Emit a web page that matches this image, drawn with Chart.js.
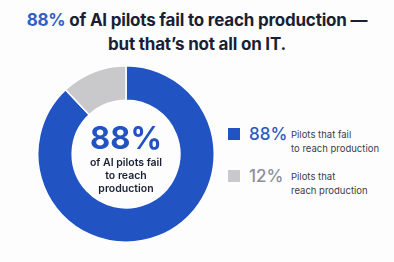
<!DOCTYPE html>
<html>
<head>
<meta charset="utf-8">
<script src="https://cdn.jsdelivr.net/npm/chart.js@4"></script>
<style>
  html, body { margin: 0; padding: 0; background: #fdfdfd; }
  body { width: 394px; height: 262px; position: relative; overflow: hidden; font-family: Inter, "Open Sans", sans-serif; color: #1b1f33; }
  .title { position: absolute; left: 0; top: 8px; width: 394px; text-align: center; font-weight: 700; font-size: 17px; line-height: 24px; letter-spacing: -0.2px; }
  .title .hl { color: #2f5fc6; }
  .chart-box { position: absolute; left: 37px; top: 65px; width: 178px; height: 178px; }
  .legend { position: absolute; left: 228px; top: 122px; }
  .legend-item { display: flex; align-items: flex-start; margin-bottom: 8px; }
  .legend-swatch { width: 12px; height: 12px; margin-top: 6px; margin-right: 9px; }
  .legend-pct { font-size: 17px; font-weight: 500; width: 42px; line-height: 24px; }
  .legend-label { font-size: 9.5px; line-height: 14px; color: #3a3d4a; margin-top: 6px; }
</style>
</head>
<body>
<div class="title"><span class="hl">88%</span> of AI pilots fail to reach production —<br>but that’s not all on IT.</div>
<div class="chart-box"><canvas id="donut"></canvas></div>
<div class="legend" id="legend"></div>
<script>
const labels = ['Pilots that fail\nto reach production', 'Pilots that\nreach production'];
const values = [88, 12];
const colors = ['#2153c2', '#c9c9cb'];
const pctColors = ['#2a59c4', '#8e8f96'];
const centerLines = ['of AI pilots fail', 'to reach', 'production'];

const legendEl = document.getElementById('legend');
legendEl.innerHTML = labels.map((l, i) => `
  <div class="legend-item">
    <div class="legend-swatch" style="background:${colors[i]}"></div>
    <div class="legend-pct" style="color:${pctColors[i]}">${values[i]}%</div>
    <div class="legend-label">${l.replace('\n', '<br>')}</div>
  </div>`).join('');

const centerText = {
  id: 'centerText',
  afterDraw(chart) {
    const { ctx } = chart;
    const arc = chart.getDatasetMeta(0).data[0];
    const x = arc.x, y = arc.y;
    ctx.save();
    ctx.textAlign = 'center';
    ctx.textBaseline = 'alphabetic';
    ctx.fillStyle = '#2153c2';
    ctx.font = '700 31px Inter, sans-serif';
    ctx.fillText(values[0] + '%', x, y - 5);
    ctx.fillStyle = '#1b1f33';
    ctx.font = '600 10.5px Inter, sans-serif';
    centerLines.forEach((t, i) => ctx.fillText(t, x, y + 12 + i * 13));
    ctx.restore();
  }
};

new Chart(document.getElementById('donut'), {
  type: 'doughnut',
  data: {
    labels: labels,
    datasets: [{
      data: values,
      backgroundColor: colors,
      borderColor: '#ffffff',
      borderWidth: 1.5
    }]
  },
  options: {
    responsive: true,
    maintainAspectRatio: false,
    animation: false,
    cutout: '61%',
    layout: { padding: 0 },
    plugins: { legend: { display: false }, tooltip: { enabled: false } }
  },
  plugins: [centerText]
});
</script>
</body>
</html>
